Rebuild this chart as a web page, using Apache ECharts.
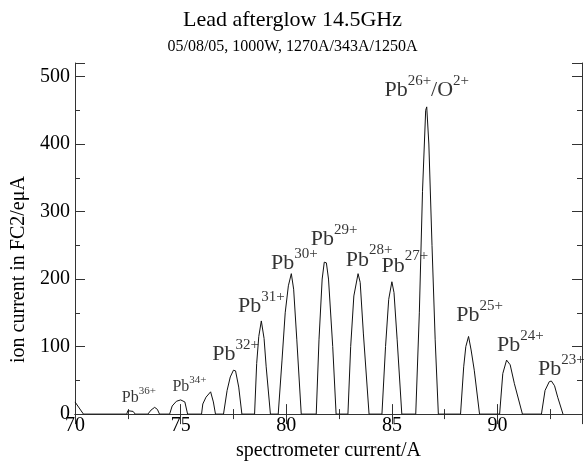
<!DOCTYPE html>
<html>
    <head>
        <meta charset="utf-8">
        <title>Lead afterglow 14.5GHz</title>
        <script src="https://cdn.jsdelivr.net/npm/echarts@6/dist/echarts.min.js"></script>
    </head>
    <body style="margin:0">
        <div id="main" style="width:585px; height:466px;"></div>
        <script type="text/javascript">
            // spectrometer current (A) and ion current (eμA)
            var scanCurrent = [
                70, 70.4,
                72.45, 72.5, 72.75, 72.85,
                73.45, 73.6, 73.77, 73.9, 74.0,
                74.48, 74.6, 74.8, 75.0, 75.2, 75.33,
                75.99, 76.05, 76.2, 76.42, 76.55, 76.65,
                77.03, 77.2, 77.35, 77.5, 77.6, 77.75, 77.9,
                78.5, 78.6, 78.7, 78.82, 78.95, 79.05, 79.25,
                79.62, 79.8, 79.95, 80.1, 80.24, 80.35, 80.5, 80.71,
                81.42, 81.55, 81.7, 81.8, 81.9, 82.0, 82.2, 82.36,
                82.92, 83.05, 83.2, 83.4, 83.5, 83.65, 83.92,
                84.53, 84.7, 84.85, 85.0, 85.1, 85.25, 85.47,
                86.13, 86.3, 86.45, 86.6, 86.65, 86.75, 86.9, 87.05, 87.2,
                88.25, 88.4, 88.5, 88.63, 88.75, 88.9, 89.15,
                90.1, 90.25, 90.43, 90.6, 90.8, 91.18,
                92.08, 92.25, 92.45, 92.55, 92.7, 92.85, 93.1
            ]
            var ionCurrent = [
                18, 0,
                0, 5, 4, 0,
                0, 6, 10, 7, 0,
                0, 12, 19, 21, 18, 0,
                0, 15, 25, 33, 18, 0,
                0, 35, 55, 65, 64, 40, 0,
                0, 75, 115, 138, 112, 70, 0,
                0, 80, 150, 190, 208, 185, 110, 0,
                0, 110, 200, 225, 224, 200, 100, 0,
                0, 100, 175, 208, 195, 120, 0,
                0, 100, 170, 196, 180, 110, 0,
                0, 150, 330, 450, 455, 400, 250, 110, 0,
                0, 70, 100, 115, 95, 65, 0,
                0, 60, 80, 73, 45, 0,
                0, 35, 48, 49, 42, 25, 0
            ]

            // peak labels: position (centre) and charge state
            var labelX = [73.02, 75.42, 77.6, 78.82, 80.38, 82.26, 83.92, 85.61, 86.65, 89.15, 91.08, 93.02]
            var labelY = [27.6, 43.6, 93, 164, 228, 263, 232.6, 224, 484, 151, 106, 71]
            var labelCharge = ['36+', '34+', '32+', '31+', '30+', '29+', '28+', '27+', '26+', '25+', '24+', '23+']

            var serif = 'Liberation Serif, Times New Roman, serif'
            var axisColor = '#333'

            var curve = []
            for (var i = 0; i < scanCurrent.length; i++) {
                curve.push([scanCurrent[i], ionCurrent[i]])
            }

            var labelData = []
            for (var i = 0; i < labelX.length; i++) {
                labelData.push({value: [labelX[i], labelY[i]], name: labelCharge[i]})
            }

            var labelText = function(p) {
                var c = p.name
                if (c === '36+' || c === '34+') {
                    return '{bs|Pb}{ss|' + c + '}'
                }
                if (c === '26+') {
                    return '{b|Pb}{s|26+}{b|/O}{s|2+}'
                }
                return '{b|Pb}{s|' + c + '}'
            }

            var xAx = function(pos, interval, len, main) {
                return {
                    type: 'value', position: pos, min: 70, max: 94, interval: interval,
                    axisLine: {show: main, lineStyle: {color: axisColor, width: 1}},
                    axisTick: {show: true, inside: true, length: len, lineStyle: {color: axisColor}},
                    axisLabel: {show: false},
                    splitLine: {show: false}
                }
            }
            var yAx = function(pos, interval, len, main) {
                return {
                    type: 'value', position: pos, min: 0, max: 520, interval: interval,
                    axisLine: {show: main, lineStyle: {color: axisColor, width: 1}},
                    axisTick: {show: true, inside: true, length: len, lineStyle: {color: axisColor}},
                    axisLabel: {show: false},
                    splitLine: {show: false}
                }
            }

            var xBottom = xAx('bottom', 5, 10, true)
            xBottom.axisLabel = {
                show: true, fontSize: 20, fontFamily: serif, color: '#000', margin: 2,
                formatter: function(v) { return v % 5 === 0 ? v : '' }
            }
            xBottom.name = 'spectrometer current/A'
            xBottom.nameLocation = 'middle'
            xBottom.nameGap = 16
            xBottom.nameTextStyle = {fontSize: 20, fontFamily: serif, color: '#000'}

            var yLeft = yAx('left', 100, 10, true)
            yLeft.axisLabel = {
                show: true, fontSize: 20, fontFamily: serif, color: '#000', margin: 5,
                formatter: function(v) { return v % 100 === 0 ? v : '' }
            }
            yLeft.name = 'ion current in FC2/eμA'
            yLeft.nameLocation = 'middle'
            yLeft.nameGap = 45
            yLeft.nameTextStyle = {fontSize: 20, fontFamily: serif, color: '#000', padding: [0, 62, 0, 0]}

            var myChart = echarts.init(document.querySelector('#main'), null, {renderer: 'canvas'})
            var option = {
                backgroundColor: '#fff',
                animation: false,
                title: {
                    text: 'Lead afterglow 14.5GHz',
                    subtext: '05/08/05, 1000W, 1270A/343A/1250A',
                    left: 'center',
                    top: 4,
                    itemGap: 8,
                    textStyle: {fontSize: 22, fontWeight: 'normal', fontFamily: serif, color: '#000'},
                    subtextStyle: {fontSize: 16, fontFamily: serif, color: '#000'}
                },
                grid: {left: 75, right: 2, top: 63, bottom: 46, containLabel: false},
                xAxis: [
                    xBottom,
                    xAx('bottom', 2.5, 5, false),
                    xAx('top', 5, 10, true),
                    xAx('top', 2.5, 5, false)
                ],
                yAxis: [
                    yLeft,
                    yAx('left', 50, 5, false),
                    yAx('right', 100, 10, true),
                    yAx('right', 50, 5, false)
                ],
                series: [
                    {
                        type: 'line',
                        data: curve,
                        showSymbol: false,
                        lineStyle: {color: '#111', width: 1},
                        itemStyle: {color: '#111'}
                    },
                    {
                        type: 'scatter',
                        data: labelData,
                        symbolSize: 0,
                        label: {
                            show: true,
                            position: 'inside',
                            align: 'center',
                            verticalAlign: 'middle',
                            formatter: labelText,
                            rich: {
                                b: {fontSize: 22, fontFamily: serif, color: '#000', lineHeight: 28, verticalAlign: 'bottom'},
                                s: {fontSize: 15, fontFamily: serif, color: '#000', lineHeight: 15, verticalAlign: 'top'},
                                bs: {fontSize: 16, fontFamily: serif, color: '#000', lineHeight: 20, verticalAlign: 'bottom'},
                                ss: {fontSize: 11, fontFamily: serif, color: '#000', lineHeight: 11, verticalAlign: 'top'}
                            }
                        }
                    }
                ]
            }
            myChart.setOption(option)
        </script>
    </body>
</html>
